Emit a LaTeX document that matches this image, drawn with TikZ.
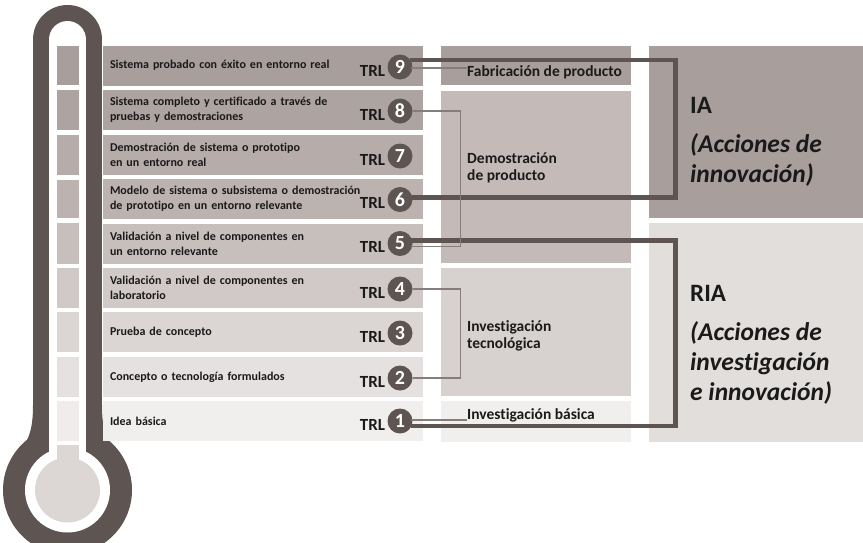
\documentclass[tikz,border=0pt]{standalone}
\usepackage{fontspec}
\setmainfont{Carlito}[Ligatures=NoCommon]
\usetikzlibrary{positioning}

\definecolor{thermo}{HTML}{5E5452}
\definecolor{ink}{HTML}{1A1A1A}
\definecolor{wire}{HTML}{857D7B}
\definecolor{lvl9}{HTML}{A89E9B}
\definecolor{lvl8}{HTML}{ADA3A0}
\definecolor{lvl7}{HTML}{B6ADAA}
\definecolor{lvl6}{HTML}{BCB3B0}
\definecolor{lvl5}{HTML}{C7BFBC}
\definecolor{lvl4}{HTML}{D0C9C7}
\definecolor{lvl3}{HTML}{DBD6D4}
\definecolor{lvl2}{HTML}{E5E1E0}
\definecolor{lvl1}{HTML}{F1EFEE}
\definecolor{stagedemo}{HTML}{C4BBB8}
\definecolor{stagetec}{HTML}{D7D1CF}
\definecolor{ria}{HTML}{E2DEDC}
\definecolor{bulb}{HTML}{DCD7D5}

\begin{document}
\begin{tikzpicture}[x=1pt,y=-1pt,
    rowbox/.style={minimum width=320pt, minimum height=40pt, text width=306pt,
        inner xsep=7pt, align=left, text=ink,
        font=\fontsize{12}{15}\selectfont\bfseries},
    badge/.style={circle, fill=thermo, minimum size=25pt, inner sep=0pt,
        text=white, font=\fontsize{20}{20}\selectfont\bfseries},
    trl/.style={inner sep=0pt, text=ink, font=\fontsize{17}{17}\selectfont\bfseries},
    stagebox/.style={minimum width=190pt, inner sep=0pt},
    stagetext/.style={inner sep=0pt, align=left, text=ink,
        font=\fontsize{15.5}{17.5}\selectfont\bfseries},
    actiontitle/.style={inner sep=0pt, text=ink, font=\fontsize{25}{25}\selectfont\bfseries},
    actiontext/.style={inner sep=0pt, align=left, text=ink,
        font=\fontsize{25.5}{30}\selectfont\bfseries\itshape},
    thickline/.style={draw=thermo, line width=4.5pt},
    thinline/.style={draw=wire, line width=1.1pt}]

    \useasboundingbox (0,0) rectangle (863,542);

    % thermometer
    \fill[thermo] (67.5,39.5) circle[radius=34.5];
    \fill[thermo] (33,39.5) rectangle (102,460);
    \fill[thermo] (67.5,490) circle[radius=64.5];
    % smooth neck
    \fill[thermo] (33,405) .. controls (33,422) and (31,432) .. (27,440) -- (108,440)
        .. controls (104,432) and (102,422) .. (102,405) -- cycle;
    \fill[white] (67.5,39.5) circle[radius=18.5];
    \fill[white] (49,39.5) rectangle (86,470);
    \fill[white] (67.5,490) circle[radius=42.5];

    % scale
    \fill[lvl9] (57,46) rectangle (79,85);
    \fill[lvl8] (57,90) rectangle (79,130);
    \fill[lvl7] (57,135) rectangle (79,175);
    \fill[lvl6] (57,180) rectangle (79,218);
    \fill[lvl5] (57,223) rectangle (79,264);
    \fill[lvl4] (57,268) rectangle (79,308);
    \fill[lvl3] (57,312) rectangle (79,352);
    \fill[lvl2] (57,357) rectangle (79,397);
    \fill[lvl1!80!lvl2] (57,401) rectangle (79,441);
    \fill[bulb] (57,445) rectangle (79,470);
    \fill[bulb] (67.5,490) circle[radius=32.5];

    % levels
    \node[rowbox, fill=lvl9] (r9) at (263,65.5) {Sistema probado con éxito en entorno real};
    \node[rowbox, fill=lvl8] (r8) at (263,110) {Sistema completo y certificado a través de\\pruebas y demostraciones};
    \node[rowbox, fill=lvl7] (r7) at (263,155) {Demostración de sistema o prototipo\\en un entorno real};
    \node[rowbox, fill=lvl6] (r6) at (263,199) {Modelo de sistema o subsistema o demostración\\de prototipo en un entorno relevante};
    \node[rowbox, fill=lvl5] (r5) at (263,243.5) {Validación a nivel de componentes en\\un entorno relevante};
    \node[rowbox, fill=lvl4] (r4) at (263,288) {Validación a nivel de componentes en\\laboratorio};
    \node[rowbox, fill=lvl3] (r3) at (263,332) {Prueba de concepto};
    \node[rowbox, fill=lvl2] (r2) at (263,377) {Concepto o tecnología formulados};
    \node[rowbox, fill=lvl1] (r1) at (263,421) {Idea básica};

    % stages
    \node[stagebox, fill=lvl9, minimum height=39pt] (s4) at (536,65.5) {};
    \node[stagebox, fill=stagedemo, minimum height=172pt] (s3) at (536,177) {};
    \node[stagebox, fill=stagetec, minimum height=128pt] (s2) at (536,332) {};
    \node[stagebox, fill=lvl1, minimum height=41pt] (s1) at (536,421.5) {};

    \node[stagetext, anchor=west] (fab) at (467,72) {Fabricación de producto};
    \node[stagetext, anchor=west] (demo) at (467,168) {Demostración\\de producto};
    \node[stagetext, anchor=west] (tecn) at (467,336) {Investigación\\tecnológica};
    \node[stagetext, anchor=west] (basica) at (467,415) {Investigación básica};

    % actions
    \node[fill=lvl9, minimum width=214pt, minimum height=172pt, inner sep=0pt] (ia) at (756,132) {};
    \node[fill=ria, minimum width=214pt, minimum height=219pt, inner sep=0pt] (riabox) at (756,332.5) {};

    \node[actiontitle, anchor=west] (iat) at (690,105) {IA};
    \node[actiontext, anchor=west] (iad) at (690,160) {(Acciones de\\innovación)};
    \node[actiontitle, anchor=west] (riat) at (690,293) {RIA};
    \node[actiontext, anchor=west] (riad) at (690,363) {(Acciones de\\investigación\\e innovación)};

    % badges
    \node[badge] (b9) at (400,67) {9};
    \node[badge] (b8) at (400,111) {8};
    \node[badge] (b7) at (400,156) {7};
    \node[badge] (b6) at (400,199.5) {6};
    \node[badge] (b5) at (400,243.5) {5};
    \node[badge] (b4) at (400,289) {4};
    \node[badge] (b3) at (400,333) {3};
    \node[badge] (b2) at (400,378) {2};
    \node[badge] (b1) at (400,421) {1};

    \node[trl, anchor=base east] (t9) at ([xshift=-2pt,yshift=-9pt]b9.west) {TRL};
    \node[trl, anchor=base east] (t8) at ([xshift=-2pt,yshift=-9pt]b8.west) {TRL};
    \node[trl, anchor=base east] (t7) at ([xshift=-2pt,yshift=-9pt]b7.west) {TRL};
    \node[trl, anchor=base east] (t6) at ([xshift=-2pt,yshift=-9pt]b6.west) {TRL};
    \node[trl, anchor=base east] (t5) at ([xshift=-2pt,yshift=-9pt]b5.west) {TRL};
    \node[trl, anchor=base east] (t4) at ([xshift=-2pt,yshift=-9pt]b4.west) {TRL};
    \node[trl, anchor=base east] (t3) at ([xshift=-2pt,yshift=-9pt]b3.west) {TRL};
    \node[trl, anchor=base east] (t2) at ([xshift=-2pt,yshift=-9pt]b2.west) {TRL};
    \node[trl, anchor=base east] (t1) at ([xshift=-2pt,yshift=-9pt]b1.west) {TRL};

    % IA bracket
    \draw[thickline] ([xshift=-3pt,yshift=7pt]b9.east) -- ++(266,0) |- ([xshift=-1pt,yshift=2pt]b6.east);
    % RIA bracket
    \draw[thickline] ([xshift=-2pt,yshift=3pt]b5.east) -- ++(265,0) |- ([xshift=-2pt,yshift=-5pt]b1.east);

    % stage connectors
    \coordinate (f9) at ([xshift=-2pt,yshift=-1pt]b9.east);
    \coordinate (f1) at ([xshift=-2pt,yshift=1pt]b1.east);
    \draw[thinline] (f9) -- (f9 -| fab.west);
    \draw[thinline] (f1) -- (f1 -| basica.west);
    \draw[thinline] (b8.east) -- ++(48,0) |- ([xshift=-2pt,yshift=-3pt]b5.east);
    \draw[thinline] (b4.east) -- ++(48,0) |- (b2.east);
\end{tikzpicture}
\end{document}
